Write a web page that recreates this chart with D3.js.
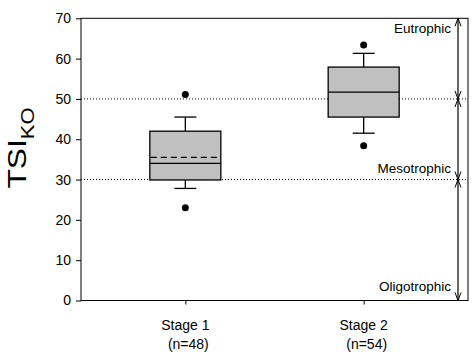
<!DOCTYPE html>
<html><head><meta charset="utf-8">
<script src="https://cdn.jsdelivr.net/npm/d3@7"></script>
<style>body{margin:0;background:#fff}svg{display:block}text{font-family:Arial,"Liberation Sans",sans-serif}</style>
</head><body><svg id="c" width="476" height="353"></svg>
<script>
const categories = ["Stage 1", "Stage 2"];
const nLabels = ["(n=48)", "(n=54)"];
const q1 = [29.9, 45.5];
const median = [34.0, 51.7];
const mean = [35.5, 51.7];
const q3 = [42.0, 57.9];
const whiskerLow = [27.8, 41.5];
const whiskerHigh = [45.5, 61.3];
const outliers = [[51.1, 23.0], [63.4, 38.4]];
const yTicks = [0, 10, 20, 30, 40, 50, 60, 70];
const refLines = [30, 50];
const zoneNames = ["Oligotrophic", "Mesotrophic", "Eutrophic"];
const zoneLo = [0, 30, 50];
const zoneHi = [30, 50, 70];
const zoneLabelAt = [2.3, 31.6, 66.3];

const svg = d3.select("#c");
const L = 81, R = 468, T = 18.3, B = 300.5;
const y = d3.scaleLinear().domain([0, 70]).range([B, T]);
const x = d3.scalePoint().domain(categories).range([L, R]).padding(0.585);
const boxW = 71, capW = 22;

// reference lines
svg.selectAll(".ref").data(refLines).enter().append("line")
  .attr("x1", L).attr("x2", R).attr("y1", d => y(d)).attr("y2", d => y(d))
  .attr("stroke", "#000").attr("stroke-width", 1).attr("stroke-dasharray", "1,2");

// frame
svg.append("rect").attr("x", L).attr("y", T).attr("width", R - L).attr("height", B - T)
  .attr("fill", "none").attr("stroke", "#000").attr("stroke-width", 1);

// y axis
const ya = svg.append("g").attr("transform", `translate(${L},0)`)
  .call(d3.axisLeft(y).tickValues(yTicks).tickSize(5).tickPadding(5).tickFormat(d3.format("d")));
ya.select(".domain").remove();
ya.selectAll("text").attr("font-size", 14).attr("font-family", "Arial, Liberation Sans, sans-serif").attr("fill", "#000");

// x axis
const xa = svg.append("g").attr("transform", `translate(0,${B})`)
  .call(d3.axisBottom(x).tickSize(4).tickFormat(""));
xa.select(".domain").remove();

categories.forEach((c, i) => {
  svg.append("text").attr("x", x(c)).attr("y", 330).attr("text-anchor", "middle")
    .attr("font-size", 14).text(c);
  svg.append("text").attr("x", x(c) + 3).attr("y", 349).attr("text-anchor", "middle")
    .attr("font-size", 14).text(nLabels[i]);
});

// boxes
const g = svg.selectAll(".box").data(categories).enter().append("g");
g.each(function(c, i) {
  const s = d3.select(this), cx = x(c);
  s.append("line").attr("x1", cx).attr("x2", cx).attr("y1", y(q3[i])).attr("y2", y(whiskerHigh[i])).attr("stroke", "#000").attr("stroke-width", 1.3);
  s.append("line").attr("x1", cx).attr("x2", cx).attr("y1", y(q1[i])).attr("y2", y(whiskerLow[i])).attr("stroke", "#000").attr("stroke-width", 1.3);
  s.append("line").attr("x1", cx - capW/2).attr("x2", cx + capW/2).attr("y1", y(whiskerHigh[i])).attr("y2", y(whiskerHigh[i])).attr("stroke", "#000").attr("stroke-width", 1.3);
  s.append("line").attr("x1", cx - capW/2).attr("x2", cx + capW/2).attr("y1", y(whiskerLow[i])).attr("y2", y(whiskerLow[i])).attr("stroke", "#000").attr("stroke-width", 1.3);
  s.append("rect").attr("x", cx - boxW/2).attr("y", y(q3[i])).attr("width", boxW).attr("height", y(q1[i]) - y(q3[i]))
    .attr("fill", "#c0c0c0").attr("stroke", "#000").attr("stroke-width", 1.3);
  s.append("line").attr("x1", cx - boxW/2).attr("x2", cx + boxW/2).attr("y1", y(median[i])).attr("y2", y(median[i])).attr("stroke", "#000").attr("stroke-width", 1.2);
  if (mean[i] !== median[i]) {
    s.append("line").attr("x1", cx - boxW/2 + 1).attr("x2", cx + boxW/2 - 1).attr("y1", y(mean[i])).attr("y2", y(mean[i])).attr("stroke", "#000").attr("stroke-width", 1.2).attr("stroke-dasharray", "6,4");
  }
  outliers[i].forEach(v => s.append("circle").attr("cx", cx).attr("cy", y(v)).attr("r", 3.5).attr("fill", "#000"));
});

// zone arrows
const ax = 458, ah = 8, aw = 3;
zoneNames.forEach((name, i) => {
  const y1 = y(zoneHi[i]), y2 = y(zoneLo[i]);
  svg.append("line").attr("x1", ax).attr("x2", ax).attr("y1", y1).attr("y2", y2).attr("stroke", "#000").attr("stroke-width", 1.2);
  svg.append("path").attr("d", `M${ax - aw},${y1 + ah}L${ax},${y1}L${ax + aw},${y1 + ah}`).attr("fill", "none").attr("stroke", "#000").attr("stroke-width", 1);
  svg.append("path").attr("d", `M${ax - aw},${y2 - ah}L${ax},${y2}L${ax + aw},${y2 - ah}`).attr("fill", "none").attr("stroke", "#000").attr("stroke-width", 1);
  svg.append("text").attr("x", 451).attr("y", y(zoneLabelAt[i])).attr("text-anchor", "end").attr("font-size", 13.5).text(name);
});

// y title
const yt = svg.append("text").attr("transform", `translate(26,148) rotate(-90) scale(1.22,1)`)
  .attr("text-anchor", "middle").attr("font-size", 26);
yt.append("tspan").text("TSI");
yt.append("tspan").attr("font-size", 18).attr("dy", 8).text("KO");
</script></body></html>
